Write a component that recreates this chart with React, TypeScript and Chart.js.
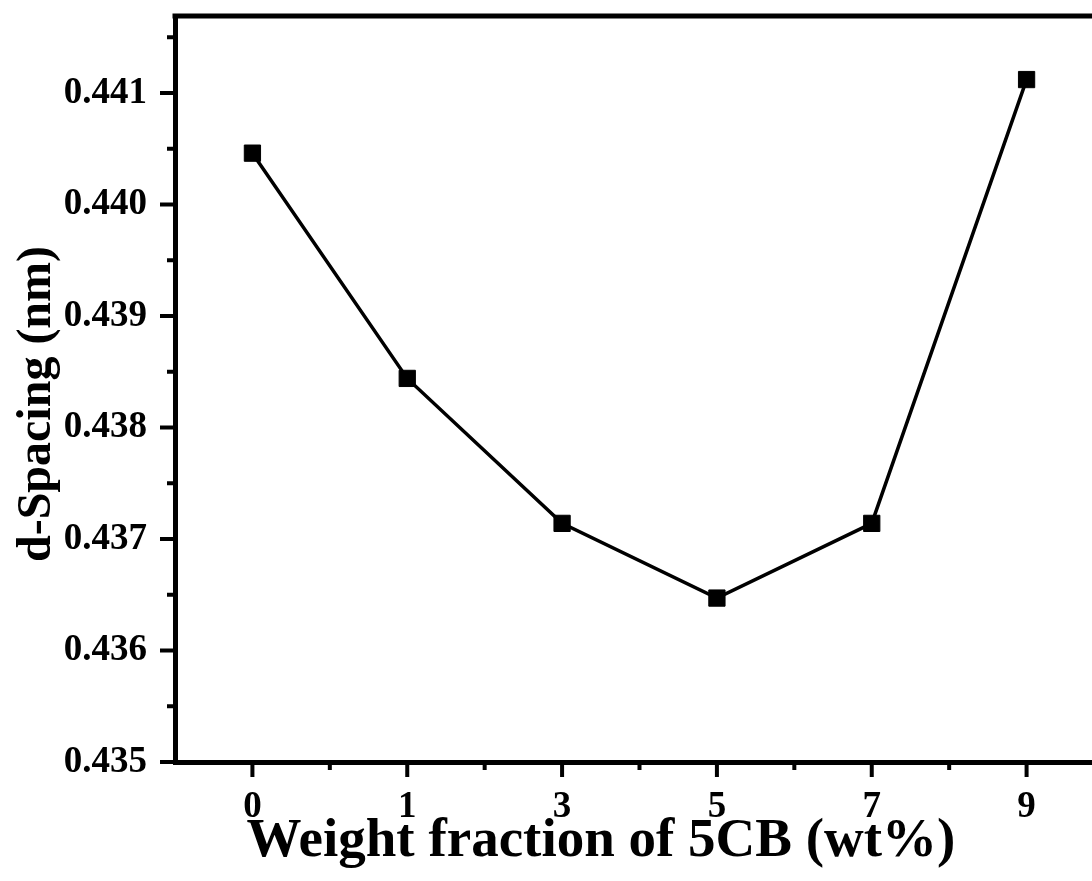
import React, { useEffect, useRef } from "react";
import { Chart, registerables } from "chart.js";

Chart.register(...registerables);

const categories = ["0", "1", "3", "5", "7", "9"];
const dSpacing = [0.44046, 0.43844, 0.43714, 0.43647, 0.43714, 0.44112];
const yMin = 0.435;
const yMax = 0.44169;
const yStep = 0.001;
const xTitle = "Weight fraction of 5CB (wt%)";
const yTitle = "d-Spacing (nm)";

const FONT = "'Liberation Serif', 'Times New Roman', serif";

const framePlugin = {
  id: "framePlugin",
  afterDraw(chart: any) {
    const ctx = chart.ctx;
    const { left, right, top, bottom } = chart.chartArea;
    const xs = chart.scales.x;
    const ys = chart.scales.y;
    ctx.save();
    ctx.strokeStyle = "#000";
    ctx.lineCap = "butt";
    // top and right frame lines
    ctx.lineWidth = 5;
    ctx.beginPath();
    ctx.moveTo(left - 2.5, top);
    ctx.lineTo(right + 2.5, top);
    ctx.moveTo(right, top);
    ctx.lineTo(right, bottom);
    ctx.stroke();
    // x ticks
    ctx.lineWidth = 4;
    ctx.beginPath();
    for (let i = 0; i < categories.length; i++) {
      const px = xs.getPixelForValue(i);
      ctx.moveTo(px, bottom + 2);
      ctx.lineTo(px, bottom + 15);
    }
    for (let i = 0; i < categories.length - 1; i++) {
      const px = xs.getPixelForValue(i + 0.5);
      ctx.moveTo(px, bottom + 2);
      ctx.lineTo(px, bottom + 8);
    }
    // y ticks
    for (let v = yMin; v <= yMax + 1e-9; v += yStep) {
      const py = ys.getPixelForValue(v);
      ctx.moveTo(left - 2, py);
      ctx.lineTo(left - 15, py);
    }
    for (let v = yMin + yStep / 2; v <= yMax + 1e-9; v += yStep) {
      const py = ys.getPixelForValue(v);
      ctx.moveTo(left - 2, py);
      ctx.lineTo(left - 8, py);
    }
    ctx.stroke();
    // titles
    ctx.fillStyle = "#000";
    ctx.font = `bold 55px ${FONT}`;
    ctx.textAlign = "center";
    ctx.textBaseline = "alphabetic";
    ctx.fillText(xTitle, 601, 856);
    ctx.font = `bold 48px ${FONT}`;
    ctx.translate(50, 404);
    ctx.rotate(-Math.PI / 2);
    ctx.fillText(yTitle, 0, 0);
    ctx.restore();
  },
};

export default function App() {
  const ref = useRef<HTMLCanvasElement | null>(null);
  useEffect(() => {
    if (!ref.current) return;
    const chart = new Chart(ref.current, {
      type: "line",
      data: {
        labels: categories,
        datasets: [
          {
            data: dSpacing,
            borderColor: "#000",
            backgroundColor: "#000",
            borderWidth: 3.5,
            pointStyle: "rect",
            pointRadius: 11.5,
            pointBorderWidth: 1,
            pointBackgroundColor: "#000",
            pointBorderColor: "#000",
            tension: 0,
            clip: false,
          },
        ],
      },
      options: {
        responsive: false,
        animation: false,
        layout: { padding: { top: 16, right: 16, left: 0, bottom: 0 } },
        plugins: { legend: { display: false }, tooltip: { enabled: false } },
        scales: {
          x: {
            type: "category",
            offset: true,
            afterFit: (s: any) => {
              s.height = 119;
              s.paddingLeft = 0;
              s.paddingRight = 0;
            },
            grid: { display: false, drawOnChartArea: false, tickLength: 12 },
            border: { display: true, color: "#000", width: 5 },
            ticks: {
              color: "#000",
              padding: 11,
              font: { family: FONT, size: 37, weight: "bold" },
              maxRotation: 0,
            },
          },
          y: {
            type: "linear",
            min: yMin,
            max: yMax,
            afterFit: (s: any) => {
              s.width = 175;
              s.paddingTop = 0;
              s.paddingBottom = 0;
            },
            grid: { display: false, drawOnChartArea: false, tickLength: 12 },
            border: { display: true, color: "#000", width: 5 },
            ticks: {
              color: "#000",
              stepSize: yStep,
              includeBounds: false,
              padding: 16,
              font: { family: FONT, size: 37, weight: "bold" },
              callback: (v: any) => Number(v).toFixed(3),
            },
          },
        },
      },
      plugins: [framePlugin],
    });
    return () => chart.destroy();
  }, []);
  return (
    <div
      style={{
        position: "fixed",
        left: 0,
        top: 0,
        width: 1092,
        height: 881,
        overflow: "hidden",
        background: "#fff",
      }}
    >
      <canvas ref={ref} width={1120} height={881} style={{ display: "block" }} />
    </div>
  );
}
